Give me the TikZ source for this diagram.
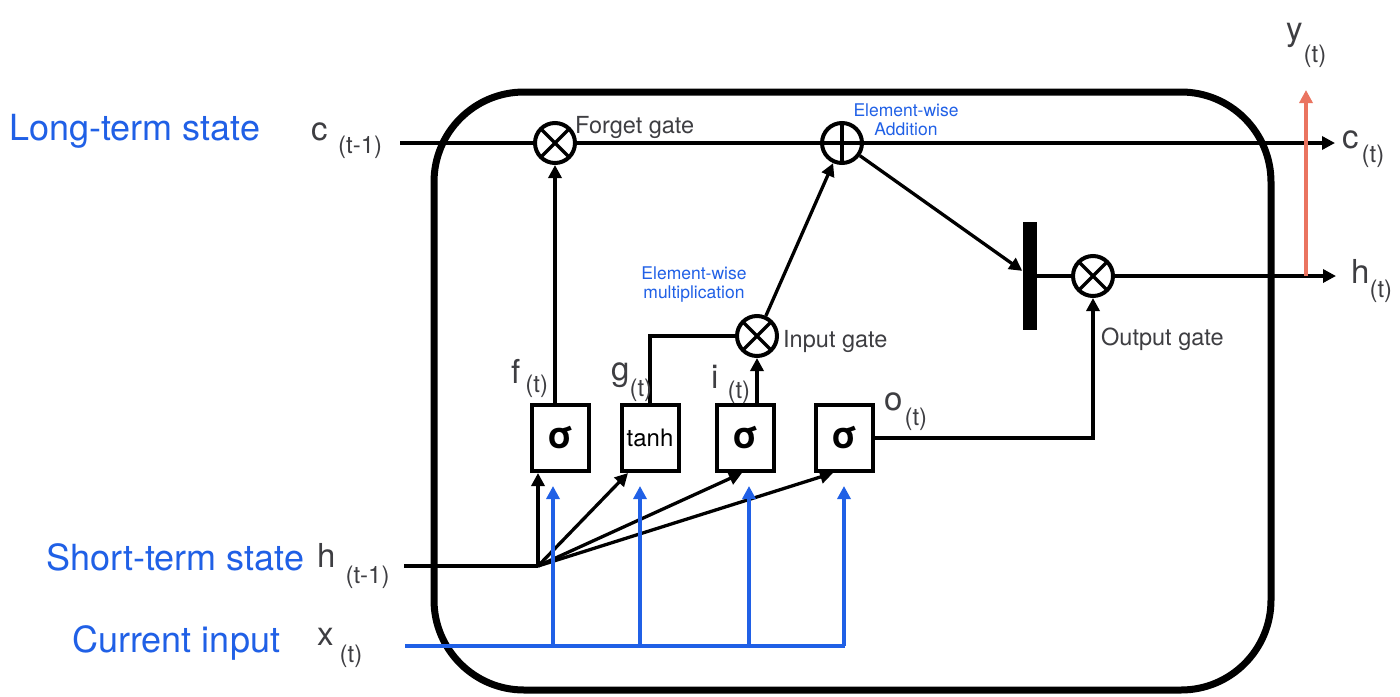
\documentclass[tikz,border=0pt]{standalone}
\usepackage{fontspec}
\setmainfont{TeX Gyre Heros}
\usetikzlibrary{calc, positioning, arrows.meta}
\definecolor{lblue}{RGB}{32,96,230}
\definecolor{lgrey}{RGB}{62,62,66}
\definecolor{lred}{RGB}{234,116,96}
% subscript (t), lowered
\newcommand{\tsub}[2][-14pt]{\raisebox{#1}{\fontsize{24}{24}\selectfont #2}}
\tikzset{
  % Set arrowhead
  >={Triangle[length=13pt, width=13pt]},
  % Connectors
  q-/.style={line width=3.3pt},
  q->/.style={q-, ->},
  % Input connectors
  x-/.style={line width=3.2pt, draw=lblue},
  x->/.style={x-, ->},
  % Output connector
  y->/.style={line width=3.2pt, draw=lred, ->},
  % Gate node
  gnode/.style={draw, fill=white, shape=circle, line width=4pt,
    minimum size=40pt, inner sep=0pt},
  % Multiplication node
  mnode/.style={gnode, path picture={
      \draw[line width=3.5pt]
      (path picture bounding box.north west) -- (path picture bounding box.south east)
      (path picture bounding box.north east) -- (path picture bounding box.south west);}},
  % Addition node
  anode/.style={gnode, path picture={
      \draw[line width=3.5pt]
      (path picture bounding box.north) -- (path picture bounding box.south)
      (path picture bounding box.west) -- (path picture bounding box.east);}},
  % Layer node
  lnode/.style={draw, shape=rectangle, line width=4pt, minimum width=57pt,
    minimum height=66pt, inner sep=0pt, font=\fontsize{37}{37}\selectfont\bfseries},
  % Bar node
  bnode/.style={fill=black, minimum width=14pt, minimum height=108pt, inner sep=0pt},
  % Texts
  side/.style={text=lblue, font=\fontsize{36}{36}\selectfont, inner sep=0pt,
    anchor=base west},
  var/.style={text=lgrey, font=\fontsize{33}{33}\selectfont, inner sep=0pt,
    anchor=base west},
  note/.style={text=lgrey, font=\fontsize{23.5}{23.5}\selectfont, inner sep=0pt,
    anchor=base west},
  op/.style={text=lblue, font=\fontsize{17.5}{19}\selectfont, align=center,
    inner sep=0pt, anchor=base},
}
\begin{document}
\begin{tikzpicture}[x=1pt, y=-1pt]
  \useasboundingbox (0,0) rectangle (1400,696);

  % cell
  \draw[line width=7pt, rounded corners=90pt] (434,92) rectangle (1271,690);

  \node[mnode] (forget) at (555,143) {};
  \node[anode] (add) at (842,143) {};
  \node[mnode] (input) at (757,336) {};
  \node[mnode] (output) at (1093,276) {};
  \node[bnode] (bar) at (1029.5,276) {};

  \node[lnode] (f) at (560.5,438) {σ};
  \node[lnode, font=\fontsize{24}{24}\selectfont] (g) at (650,438) {tanh};
  \node[lnode] (i) at (745,438) {σ};
  \node[lnode] (o) at (844,438) {σ};

  \coordinate (cin) at (400,143);
  \coordinate (cout) at (1335,143);
  \coordinate (hin) at (404,566);
  \coordinate (hsplit) at (538,566);
  \coordinate (hout) at (1336,276);
  \coordinate (ysplit) at (1306,276);
  \coordinate (yout) at (1306,90);
  \coordinate (xin) at (405,646);
  \coordinate (xend) at (845,646);

  % long-term state
  \draw[q-] (cin) -- (forget);
  \draw[q-] (forget) -- (add);
  \draw[q->] (add) -- (cout);
  \draw[q->] (forget |- f.north) -- (forget);
  \draw[q-] (g.north) |- (input);
  \draw[q->] (input |- i.north) -- (input);
  \draw[q->] (input) -- (add);
  \draw[q->] (add) -- (bar);
  \draw[q-] (bar) -- (output);
  \draw[q->] (o) -| (output);
  \draw[q->] (output) -- (hout);
  \draw[y->] (ysplit) -- (yout);

  % short-term state
  \draw[q-] (hin) -- (hsplit);
  \draw[q->] (hsplit) -- (hsplit |- f.south);
  \draw[q->] (hsplit) -- ([xshift=-22pt]g.south);
  \draw[q->] (hsplit) -- ([xshift=-3pt]i.south);
  \draw[q->] (hsplit) -- ([xshift=-11pt]o.south);

  % current input
  \draw[x-] (xin) -- (xend);
  \foreach \n/\d in {f/-7.5, g/-10, i/4, o/0}
    \draw[x->] ([xshift=\d pt]\n.south |- xin) -- ([xshift=\d pt, yshift=-13pt]\n.south);

  % labels
  \node[side] (lts) at (9,140) {Long-term state};
  \node[side] (sts) at (46,570) {Short-term state};
  \node[side] (cur) at (72,652) {Current input};

  \node[var] (cl) at (311,140) {c\hspace{10.5pt}\tsub[-13pt]{(t-1)}};
  \node[var] (hl) at (317,567) {h\hspace{10pt}\tsub[-16pt]{(t-1)}};
  \node[var] (xl) at (317,645) {x\hspace{6pt}\tsub[-17pt]{(t)}};
  \node[var] (fl) at (511,383) {f\hspace{5pt}\tsub[-9pt]{(t)}};
  \node[var] (gl) at (611,380) {g\tsub[-16pt]{(t)}};
  \node[var] (il) at (711,388) {i\hspace{9pt}\tsub[-10pt]{(t)}};
  \node[var] (ol) at (884,410) {o\hspace{2pt}\tsub[-15pt]{(t)}};
  \node[var] (yl) at (1286,40) {y\hspace{1pt}\tsub[-22pt]{(t)}};
  \node[var] (cr) at (1342,148) {c\hspace{3pt}\tsub[-14pt]{(t)}};
  \node[var] (hr) at (1351,283) {h\tsub[-14pt]{(t)}};

  \node[note] (fg) at (575,133) {Forget gate};
  \node[note] (ig) at (783,347) {Input gate};
  \node[note] (og) at (1101,345) {Output gate};

  \node[op] (addl) at (906,135) {Element-wise\\Addition};
  \node[op] (mull) at (694,298) {Element-wise\\multiplication};
\end{tikzpicture}
\end{document}
